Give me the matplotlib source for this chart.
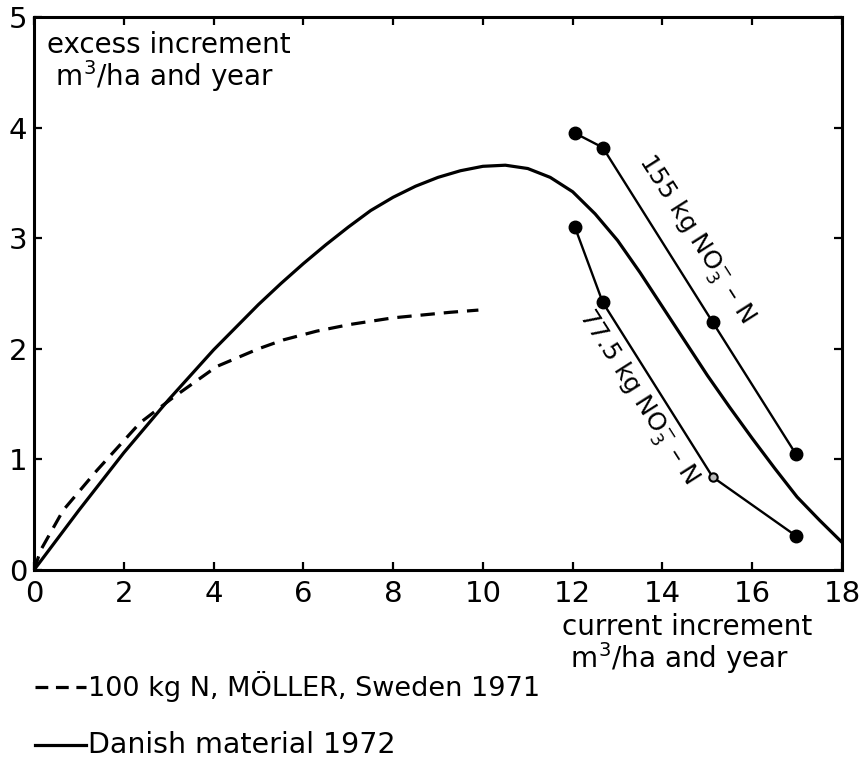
import matplotlib
matplotlib.use("Agg")
import matplotlib.pyplot as plt
from matplotlib.lines import Line2D

# ---- data ----
danish_x = [0, 1, 2, 3, 4, 5, 5.5, 6, 6.5, 7, 7.5, 8, 8.5, 9, 9.5, 10, 10.5, 11, 11.5,
            12, 12.5, 13, 13.5, 14, 14.5, 15, 15.5, 16, 16.5, 17, 17.5, 18]
danish_y = [0, 0.54, 1.06, 1.54, 1.99, 2.40, 2.59, 2.77, 2.94, 3.10, 3.25, 3.37, 3.47,
            3.55, 3.61, 3.65, 3.66, 3.63, 3.55, 3.42, 3.22, 2.98, 2.69, 2.38, 2.07,
            1.76, 1.47, 1.19, 0.92, 0.66, 0.45, 0.25]

moller_x = [0, 0.15, 0.65, 1.4, 2.36, 3.1, 4.07, 5.0, 5.55, 6.3, 7.04, 8.0, 9.27, 9.9]
moller_y = [0, 0.18, 0.54, 0.90, 1.33, 1.56, 1.84, 2.0, 2.08, 2.16, 2.22, 2.28, 2.33, 2.35]

n155_x = [12.05, 12.67, 15.12, 16.97]
n155_y = [3.95, 3.82, 2.24, 1.05]

n775_x = [12.05, 12.67, 15.12, 16.97]
n775_y = [3.10, 2.42, 0.84, 0.31]

xticks = [0, 2, 4, 6, 8, 10, 12, 14, 16, 18]
yticks = [0, 1, 2, 3, 4, 5]

W, H = 862, 770
fig = plt.figure(figsize=(W / 100, H / 100), dpi=100)

def fx(px):
    return px / W

def fy(py):
    return 1 - py / H

left, right, top, bottom = 34, 842, 17, 570
ax = fig.add_axes([fx(left), fy(bottom), fx(right - left), (bottom - top) / H])
ax.set_xlim(0, 18)
ax.set_ylim(0, 5)

ax.plot(danish_x, danish_y, color="black", lw=2.3, solid_joinstyle="round")
ax.plot(moller_x, moller_y, color="black", lw=2.3, linestyle=(0, (4.5, 2.8)))

ax.plot(n155_x, n155_y, color="black", lw=1.7, marker="o", markersize=9)
ax.plot(n775_x, n775_y, color="black", lw=1.7)
ax.plot([n775_x[i] for i in (0, 1, 3)], [n775_y[i] for i in (0, 1, 3)],
        linestyle="none", marker="o", markersize=9, color="black")
ax.plot([n775_x[2]], [n775_y[2]], linestyle="none", marker="o", markersize=6,
        mfc="#bbbbbb", mec="black", mew=1.5)

txtfont = ["DejaVu Sans"]
ax.text(14.74, 2.99, r"155 kg NO$_3^{-}$ – N", rotation=-57.5, ha="center", va="center",
        fontsize=18, family=txtfont, rotation_mode="anchor")
ax.text(13.45, 1.56, r"77.5 kg NO$_3^{-}$ – N", rotation=-57.5, ha="center", va="center",
        fontsize=18, family=txtfont, rotation_mode="anchor")

for s in ax.spines.values():
    s.set_linewidth(2.2)

ax.set_xticks(xticks)
ax.set_yticks(yticks)
ax.set_xticklabels([str(v) for v in xticks])
ax.set_yticklabels([str(v) for v in yticks])
ax.tick_params(direction="in", length=6, width=1.6, top=True, right=True,
               labelsize=21, pad=7)
ax.tick_params(axis="y", pad=5)

# y axis title (inside plot area)
ax.text(0.3, 4.87, "excess increment\n m$^3$/ha and year", ha="left", va="top",
        fontsize=20, family=txtfont, linespacing=0.95)

# x axis title
fig.text(fx(562), fy(613), "current increment\n m$^3$/ha and year", ha="left", va="top",
         fontsize=20, family=txtfont, linespacing=0.95)

# legend
fig.add_artist(Line2D([fx(35), fx(86)], [fy(687), fy(687)], color="black", lw=2.3,
                      linestyle=(0, (4.0, 2.4)), transform=fig.transFigure))
fig.text(fx(88), fy(687), "100 kg N, MÖLLER, Sweden 1971", ha="left", va="center",
         fontsize=19.5, family=txtfont)
fig.add_artist(Line2D([fx(35), fx(86)], [fy(745), fy(745)], color="black", lw=2.3,
                      transform=fig.transFigure))
fig.text(fx(88), fy(745), "Danish material 1972", ha="left", va="center",
         fontsize=20.5, family=txtfont)

fig.savefig("out.png", dpi=100)
